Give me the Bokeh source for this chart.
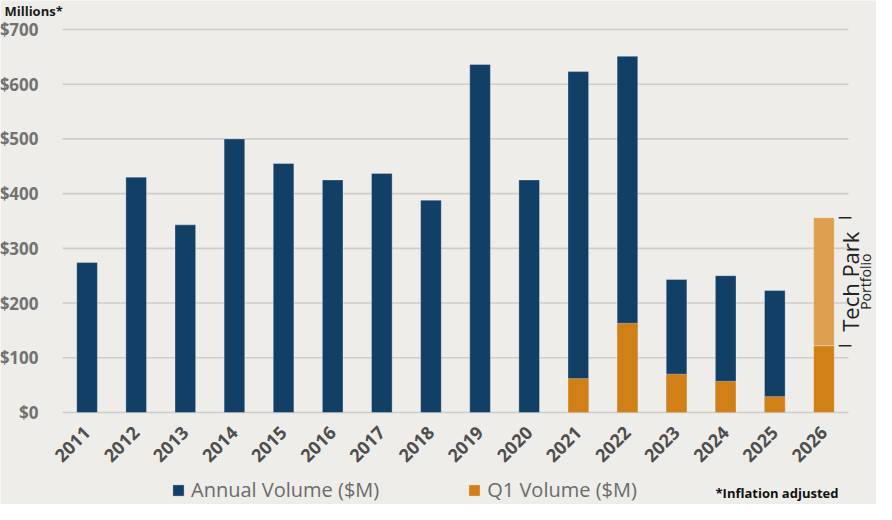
import math
import numpy as np
from bokeh.plotting import figure
from bokeh.models import (Range1d, FixedTicker, NumeralTickFormatter, Legend,
                          LegendItem, Label, ColumnDataSource)
from bokeh.embed import file_html
from bokeh.resources import INLINE

# ---------------- data ----------------
years = ["2011", "2012", "2013", "2014", "2015", "2016", "2017", "2018",
         "2019", "2020", "2021", "2022", "2023", "2024", "2025", "2026"]
annual_volume = [274, 430, 343, 500, 455, 425, 437, 388,
                 636, 425, 623, 651, 243, 250, 223, None]
q1_volume = [None, None, None, None, None, None, None, None,
             None, None, 62, 163, 70, 57, 29, 122]
tech_park = [None] * 15 + [234]
y_ticks = [0, 100, 200, 300, 400, 500, 600, 700]

BLUE = "#123f66"
ORANGE = "#d08016"
LIGHT_ORANGE = "#dca050"
BG = "#eeede9"

def arr(v):
    return np.array([np.nan if a is None else a for a in v], dtype=float)

idx = np.arange(len(years))
ann = arr(annual_volume)
q1 = arr(q1_volume)
tp = arr(tech_park)

src = ColumnDataSource(dict(x=idx, annual=ann, q1=q1,
                            tp_bottom=q1, tp_top=q1 + tp))

# frame covers the whole canvas; axes are pinned to x=-0.5 / y=0
p = figure(width=876, height=504, output_backend="svg", toolbar_location=None,
           x_range=Range1d(-1.762, 16.07), y_range=Range1d(-168.2, 753.0),
           min_border_left=0, min_border_right=0, min_border_top=0,
           min_border_bottom=0)
p.background_fill_color = BG
p.border_fill_color = BG
p.outline_line_color = None
p.xgrid.visible = False
p.ygrid.visible = False

# grid lines drawn across the category span
p.segment(x0=-0.5, x1=len(years) - 0.5, y0=y_ticks, y1=y_ticks,
          line_color="#cfcdc8", line_width=1.6)

bw = 0.42
r_ann = p.vbar(x="x", top="annual", bottom=0, width=bw, source=src,
               fill_color=BLUE, line_color="#ffffff", line_alpha=0.3, line_width=1)
r_q1 = p.vbar(x="x", top="q1", bottom=0, width=bw, source=src,
              fill_color=ORANGE, line_color="#ffffff", line_alpha=0.3, line_width=1)
p.vbar(x="x", top="tp_top", bottom="tp_bottom", width=bw, source=src,
       fill_color=LIGHT_ORANGE, line_color="#ffffff", line_alpha=0.3, line_width=1)

# bracket for Tech Park Portfolio
last = len(years) - 1
tp_lo = q1[last]
tp_hi = q1[last] + tp[last]
p.segment(x0=last + 0.3, x1=last + 0.56, y0=[tp_lo, tp_hi], y1=[tp_lo, tp_hi],
          line_color="#222222", line_width=1.5)
mid = (tp_lo + tp_hi) / 2
p.add_layout(Label(x=last + 0.53, y=mid, text="Tech Park", angle=math.pi / 2,
                   text_align="center", text_baseline="middle",
                   text_font="Open Sans", text_font_size="22px", text_color="#222222"))
p.add_layout(Label(x=last + 0.846, y=mid, text="Portfolio", angle=math.pi / 2,
                   text_align="center", text_baseline="middle",
                   text_font="Open Sans", text_font_size="14px", text_color="#222222"))

# axes
p.xaxis.fixed_location = 0
p.xaxis.ticker = FixedTicker(ticks=list(idx))
p.xaxis.major_label_overrides = {int(i): y for i, y in zip(idx, years)}
p.xaxis.major_label_orientation = math.pi / 4
p.xaxis.major_label_text_font = "Open Sans"
p.xaxis.major_label_text_font_style = "bold"
p.xaxis.major_label_text_font_size = "18px"
p.xaxis.major_label_text_color = "#4e4e4e"
p.xaxis.major_label_standoff = 11
p.xaxis.axis_line_color = None
p.xaxis.major_tick_line_color = None
p.xaxis.minor_tick_line_color = None

p.yaxis.fixed_location = -0.5
p.yaxis.ticker = FixedTicker(ticks=y_ticks)
p.yaxis.formatter = NumeralTickFormatter(format="$0")
p.yaxis.major_label_text_font = "Open Sans"
p.yaxis.major_label_text_font_style = "bold"
p.yaxis.major_label_text_font_size = "17px"
p.yaxis.major_label_text_color = "#727272"
p.yaxis.major_label_standoff = 18
p.yaxis.axis_line_color = None
p.yaxis.major_tick_line_color = None
p.yaxis.minor_tick_line_color = None

# texts
p.add_layout(Label(x=-0.5, y=700, x_offset=-58, y_offset=27, text="Millions*",
                   text_baseline="top", text_font="Open Sans", text_font_style="bold",
                   text_font_size="13px", text_color="#1a1a1a"))
p.add_layout(Label(x=-0.5, y=0, x_offset=653, y_offset=-81, text="*Inflation adjusted",
                   text_baseline="middle", text_font="Open Sans", text_font_style="bold",
                   text_font_size="13px", text_color="#111111"))

legend = Legend(items=[LegendItem(label="Annual Volume ($M)", renderers=[r_ann]),
                       LegendItem(label="Q1 Volume ($M)", renderers=[r_q1])],
                orientation="horizontal", location=(171, 1))
legend.background_fill_alpha = 0
legend.border_line_alpha = 0
legend.padding = 0
legend.margin = 0
legend.spacing = 88
legend.glyph_width = 14
legend.glyph_height = 14
legend.label_standoff = 6
legend.label_text_font = "Open Sans"
legend.label_text_font_size = "20px"
legend.label_text_color = "#6b6b6b"
p.add_layout(legend, "center")

open("out.html", "w").write(file_html(p, INLINE))
